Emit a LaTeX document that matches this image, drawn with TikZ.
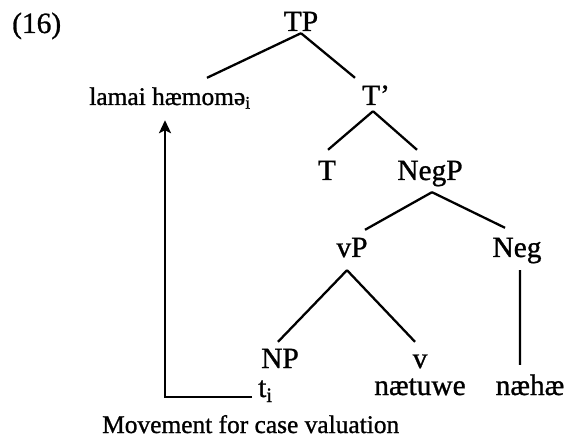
\documentclass[tikz,border=0pt]{standalone}
\usepackage{fontspec}
\setmainfont{Liberation Serif}[FakeBold=1]
\usepackage{tikz}
\usetikzlibrary{arrows.meta}
\tikzstyle{cat}    = [anchor=base, inner sep=0pt, text height=20bp, text depth=0pt, font=\fontsize{29.5}{32}\selectfont]
\tikzstyle{small}  = [font=\fontsize{25.5}{30}\selectfont]
\tikzstyle{branch} = [line width=2.3bp]
\tikzstyle{arrow}  = [line width=2.6bp, -{Stealth[length=13bp, width=12bp, inset=3bp]}]

\begin{document}
\begin{tikzpicture}[x=1bp, y=-1bp]
    \useasboundingbox (0,0) rectangle (565,446);

    \node (ex)     at (12, 33)   [cat, anchor=base west] {(16)};
    \node (tp)     at (301, 31)  [cat] {TP};
    \node (lamai)  at (170, 105) [cat, small] {lamai hæmomə\textsubscript{i}};
    \node (tbar)   at (376, 105) [cat] {T’};
    \node (t)      at (327, 180) [cat] {T};
    \node (negp)   at (430, 180) [cat] {NegP};
    \node (vp)     at (352, 257) [cat] {vP};
    \node (neg)    at (517, 257) [cat] {Neg};
    \node (np)     at (280, 368) [cat] {NP};
    \node (v)      at (420, 368) [cat] {v};
    \node (ti)     at (258, 397) [cat, anchor=base west] {t\textsubscript{i}};
    \node (naetuwe) at (420, 395) [cat] {nætuwe};
    \node (naehae) at (530, 395) [cat] {næhæ};
    \node (move)   at (102, 433) [cat, small, anchor=base west] {Movement for case valuation};

    % tree branches
    \draw [branch] ([yshift=-2bp]tp.south) -- ([xshift=37bp, yshift=7bp]lamai.north);
    \draw [branch] ([yshift=-2bp]tp.south) -- ([xshift=-21bp, yshift=7bp]tbar.north);
    \draw [branch] ([xshift=-3bp, yshift=-6bp]tbar.south) -- ([xshift=1bp, yshift=10bp]t.north);
    \draw [branch] ([xshift=-3bp, yshift=-6bp]tbar.south) -- ([xshift=-13bp, yshift=10bp]negp.north);
    \draw [branch] ([xshift=2bp, yshift=-12bp]negp.south) -- ([xshift=13bp, yshift=7bp]vp.north);
    \draw [branch] ([xshift=2bp, yshift=-12bp]negp.south) -- ([xshift=-12bp, yshift=9bp]neg.north);
    \draw [branch] ([xshift=-5bp, yshift=-13bp]vp.south) -- ([xshift=-2bp, yshift=6bp]np.north);
    \draw [branch] ([xshift=-5bp, yshift=-13bp]vp.south) -- ([xshift=-5bp, yshift=6bp]v.north);
    \draw [branch] ([xshift=3bp, yshift=-13bp]neg.south) -- ([xshift=-10bp, yshift=10bp]naehae.north);

    % movement
    \draw [arrow] ([xshift=-6bp]ti.base west) -| ([xshift=-5bp, yshift=-15bp]lamai.south);
\end{tikzpicture}
\end{document}
